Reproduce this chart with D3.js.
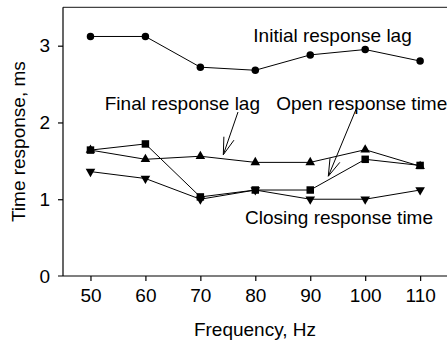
<!DOCTYPE html>
<html><head><meta charset="utf-8">
<script src="https://cdn.jsdelivr.net/npm/d3@7"></script>
<style>
html,body{margin:0;padding:0;background:#fff;}
svg{display:block;font-family:"Liberation Sans",Arial,sans-serif;}
</style></head>
<body><svg id="c" width="447" height="343"></svg>
<script>
const freq = [50, 60, 70, 80, 90, 100, 110];
const initialLag = [3.12, 3.12, 2.72, 2.68, 2.88, 2.95, 2.80];
const finalLag   = [1.64, 1.52, 1.56, 1.48, 1.48, 1.645, 1.43];
const openTime   = [1.64, 1.72, 1.03, 1.12, 1.12, 1.52, 1.44];
const closeTime  = [1.36, 1.27, 1.00, 1.12, 1.00, 1.00, 1.12];
const xTicks = [50, 60, 70, 80, 90, 100, 110];
const yTicks = [0, 1, 2, 3];

const svg = d3.select("#c");
const x = d3.scaleLinear().domain([45, 115]).range([63, 447.6]);
const y = d3.scaleLinear().domain([0, 3.5]).range([276, 7.3]);
const FS = 19;

// top frame line
svg.append("line").attr("x1", x(45)).attr("x2", 447).attr("y1", y(3.5)).attr("y2", y(3.5))
  .attr("stroke", "#444").attr("stroke-width", 1.2);

// x axis
const gx = svg.append("g").attr("transform", `translate(0,${y(0)})`)
  .call(d3.axisBottom(x).tickValues(xTicks).tickFormat(d3.format("d")).tickSize(5).tickSizeOuter(0).tickPadding(8));
gx.select(".domain").attr("d", `M${x(45) - 5},0H447`);
// y axis
const gy = svg.append("g").attr("transform", `translate(${x(45)},0)`)
  .call(d3.axisLeft(y).tickValues(yTicks).tickFormat(d3.format("d")).tickSize(5).tickSizeOuter(0).tickPadding(8));
gy.select(".domain").attr("d", `M0,${y(0)}V${y(3.5)}`);
[gx, gy].forEach(g => {
  g.selectAll("path,line").attr("stroke", "#000").attr("stroke-width", 1.2);
  g.selectAll("text").attr("font-size", FS).attr("font-family", "Liberation Sans, Arial, sans-serif").attr("fill", "#000");
});
gy.selectAll(".tick line").filter(d => d === 0).remove();

svg.append("text").attr("x", (x(45) + 447) / 2).attr("y", 336).attr("text-anchor", "middle")
  .attr("font-size", FS).text("Frequency, Hz");
svg.append("text").attr("transform", `translate(24.5,${(y(0) + y(3.5)) / 2}) rotate(-90)`)
  .attr("text-anchor", "middle").attr("font-size", FS).text("Time response, ms");

const line = d3.line().x((d, i) => x(freq[i])).y(d => y(d));
const series = [
  {v: initialLag, m: "circle"},
  {v: finalLag, m: "up"},
  {v: openTime, m: "square"},
  {v: closeTime, m: "down"}
];
const shapes = {
  circle: d3.symbol().type(d3.symbolCircle).size(44),
  square: d3.symbol().type(d3.symbolSquare).size(56),
  up: d3.symbol().type(d3.symbolTriangle).size(40),
  down: d3.symbol().type(d3.symbolTriangle).size(40)
};
series.forEach(s => {
  svg.append("path").attr("d", line(s.v)).attr("fill", "none").attr("stroke", "#000").attr("stroke-width", 1);
  svg.append("g").selectAll("path").data(s.v).join("path")
    .attr("transform", (d, i) => `translate(${x(freq[i])},${y(d)})${s.m === "down" ? " rotate(180)" : ""}`)
    .attr("d", shapes[s.m]()).attr("fill", "#000");
});

// labels
const labels = [
  {t: "Initial response lag", fx: 79.64, fy: 3.05},
  {t: "Final response lag", fx: 52.6, fy: 2.16},
  {t: "Open response time", fx: 83.8, fy: 2.16},
  {t: "Closing response time", fx: 78.13, fy: 0.68}
];
labels.forEach(l => svg.append("text").attr("x", x(l.fx)).attr("y", y(l.fy))
  .attr("text-anchor", "start").attr("font-size", FS).text(l.t));

// arrows: [fromFreq, fromVal, tipFreq, tipVal]
const arrows = [
  [76.85, 2.136, 74.18, 1.58],
  [98.5, 2.20, 93.29, 1.30]
];
arrows.forEach(a => {
  const x1 = x(a[0]), y1 = y(a[1]), x2 = x(a[2]), y2 = y(a[3]);
  const ang = Math.atan2(y1 - y2, x1 - x2), L = 18, w = 0.3;
  svg.append("line").attr("x1", x1).attr("y1", y1).attr("x2", x2).attr("y2", y2).attr("stroke", "#000").attr("stroke-width", 1);
  const p = d3.path();
  p.moveTo(x2 + L * Math.cos(ang - w), y2 + L * Math.sin(ang - w));
  p.lineTo(x2, y2);
  p.lineTo(x2 + L * Math.cos(ang + w), y2 + L * Math.sin(ang + w));
  svg.append("path").attr("d", p.toString()).attr("fill", "none").attr("stroke", "#000").attr("stroke-width", 1);
});
</script></body></html>
